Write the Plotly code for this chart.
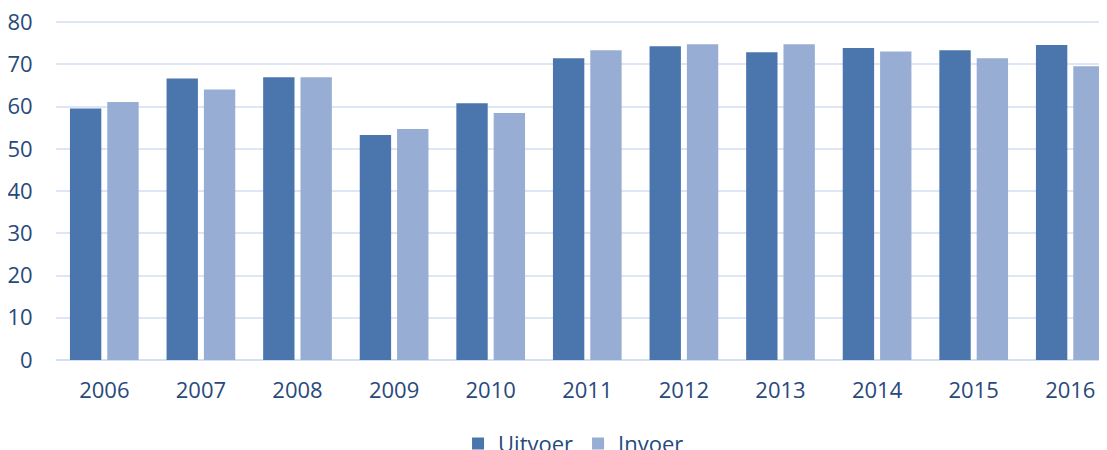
import plotly.graph_objects as go

years = ["2006", "2007", "2008", "2009", "2010", "2011", "2012", "2013", "2014", "2015", "2016"]
uitvoer = [59.6, 66.7, 67.0, 53.3, 60.8, 71.5, 74.3, 72.9, 73.9, 73.4, 74.6]
invoer = [61.1, 64.1, 67.0, 54.7, 58.5, 73.4, 74.8, 74.8, 73.1, 71.5, 69.6]
y_ticks = [0, 10, 20, 30, 40, 50, 60, 70, 80]

text_color = "#27497c"
font_family = "Open Sans, Noto Sans, sans-serif"

fig = go.Figure()
fig.add_trace(go.Bar(name="Uitvoer", x=years, y=uitvoer, marker=dict(color="#4a76ad", line=dict(width=0))))
fig.add_trace(go.Bar(name="Invoer", x=years, y=invoer, marker=dict(color="#97add3", line=dict(width=0))))

# page body has an 8px default margin; figure sized to fill the 1107x450 window from that offset
fig.update_layout(
    width=1099, height=442,
    margin=dict(l=48, r=0, t=13, b=90, autoexpand=False),
    paper_bgcolor="white", plot_bgcolor="white",
    barmode="group", bargap=0.227, bargroupgap=0.16,
    font=dict(family=font_family, size=22, color=text_color),
    showlegend=True,
    legend=dict(orientation="h", xref="container", yref="container",
                x=0.5146, xanchor="center", y=0.014, yanchor="middle",
                font=dict(size=22, color=text_color), itemwidth=30, traceorder="normal"),
    xaxis=dict(type="category", range=[-0.5, 10.38], showgrid=False, showline=False, automargin=False,
               ticks="outside", ticklen=11, tickcolor="rgba(0,0,0,0)", tickfont=dict(size=22, color=text_color)),
    yaxis=dict(range=[0, 80.3], tickvals=y_ticks, showgrid=True, gridcolor="#dce6f4", gridwidth=2,
               zeroline=True, zerolinecolor="#d3e0f1", zerolinewidth=2, showline=False, automargin=False,
               ticklabeloverflow="allow",
               ticks="outside", ticklen=18, tickcolor="rgba(0,0,0,0)", tickfont=dict(size=22, color=text_color)),
)

fig.write_html("out.html")
